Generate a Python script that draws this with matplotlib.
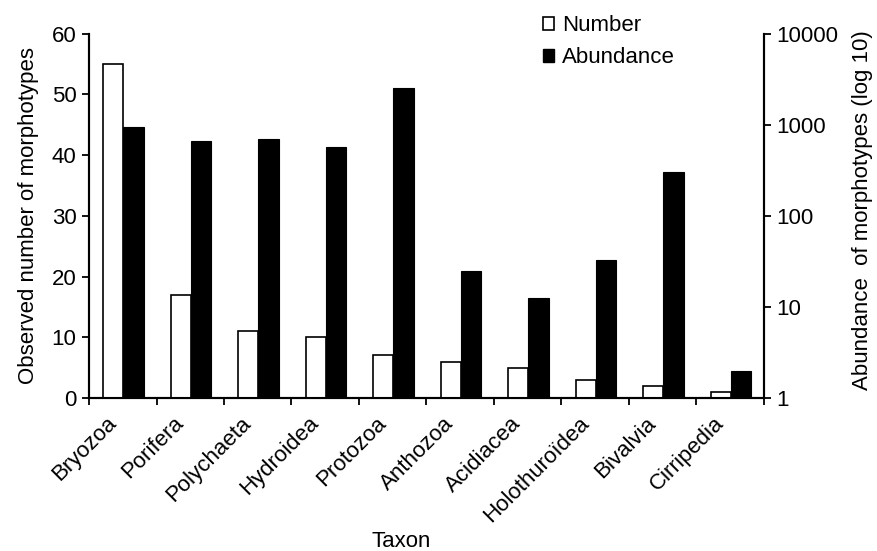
import matplotlib
matplotlib.use("Agg")
import matplotlib.pyplot as plt
from matplotlib.patches import Patch
from matplotlib.ticker import FixedLocator, NullFormatter
import numpy as np

taxa = ["Bryozoa", "Porifera", "Polychaeta", "Hydroidea", "Protozoa",
        "Anthozoa", "Acidiacea", "Holothuroïdea", "Bivalvia", "Cirripedia"]
number = [55, 17, 11, 10, 7, 6, 5, 3, 2, 1]
abundance = [945, 665, 700, 570, 2550, 25, 12.5, 33, 305, 2]

plt.rcParams['font.family'] = ['Liberation Sans', 'DejaVu Sans']
plt.rcParams['font.size'] = 16

fig = plt.figure(figsize=(8.77, 5.51), dpi=100)
ax = fig.add_axes([0.1015, 0.2777, 0.7695, 0.6613])
ax2 = ax.twinx()

x = np.arange(len(taxa))
w = 0.3
ax.bar(x - w / 2 + 0.01, number, width=w, color="white", edgecolor="black",
       linewidth=1.2, zorder=3)
ax2.bar(x + w / 2 + 0.01, abundance, width=w, color="black", edgecolor="black",
        linewidth=0.8, zorder=3)

ax.set_xlim(-0.5, len(taxa) - 0.5)
ax.set_ylim(0, 60)
ax.set_yticks(np.arange(0, 61, 10))
ax2.set_yscale("log")
ax2.set_ylim(1, 10000)
ax2.set_yticks([1, 10, 100, 1000, 10000])
ax2.set_yticklabels(["1", "10", "100", "1000", "10000"])
ax2.yaxis.set_minor_locator(FixedLocator([]))

# category names sit slightly left of each group, ending just under the bars
label_offset = 0.14
ax.set_xticks(x - label_offset)
ax.set_xticklabels(taxa, rotation=45, ha="right", va="center",
                   rotation_mode="anchor")
ax.tick_params(axis="x", which="major", length=0, pad=16)
ax.xaxis.set_minor_locator(FixedLocator(np.arange(-0.5, len(taxa), 1.0)))
ax.xaxis.set_minor_formatter(NullFormatter())
ax.tick_params(axis="x", which="minor", direction="out", length=5, width=1.3)
ax.tick_params(axis="y", direction="out", length=5, width=1.3, pad=4)
ax2.tick_params(axis="y", direction="out", length=5, width=1.3, pad=4)

for a in (ax, ax2):
    a.spines["top"].set_visible(False)
    for s in ("left", "right", "bottom"):
        a.spines[s].set_linewidth(1.5)

ax.set_ylabel("Observed number of morphotypes", labelpad=9)
ax2.set_ylabel("Abundance  of morphotypes (log 10)", labelpad=10)
ax2.yaxis.label.set_y(0.516)
ax.set_xlabel("Taxon", labelpad=3)
ax.xaxis.label.set_x(0.462)

handles = [Patch(facecolor="white", edgecolor="black", linewidth=1.2),
           Patch(facecolor="black", edgecolor="black")]
leg = ax.legend(handles, ["Number", "Abundance"], loc="upper left",
                bbox_to_anchor=(0.66, 1.075), frameon=False,
                handlelength=0.5, handleheight=0.5, handletextpad=0.35,
                labelspacing=0.5, borderaxespad=0)

fig.savefig("out.png", dpi=100)
